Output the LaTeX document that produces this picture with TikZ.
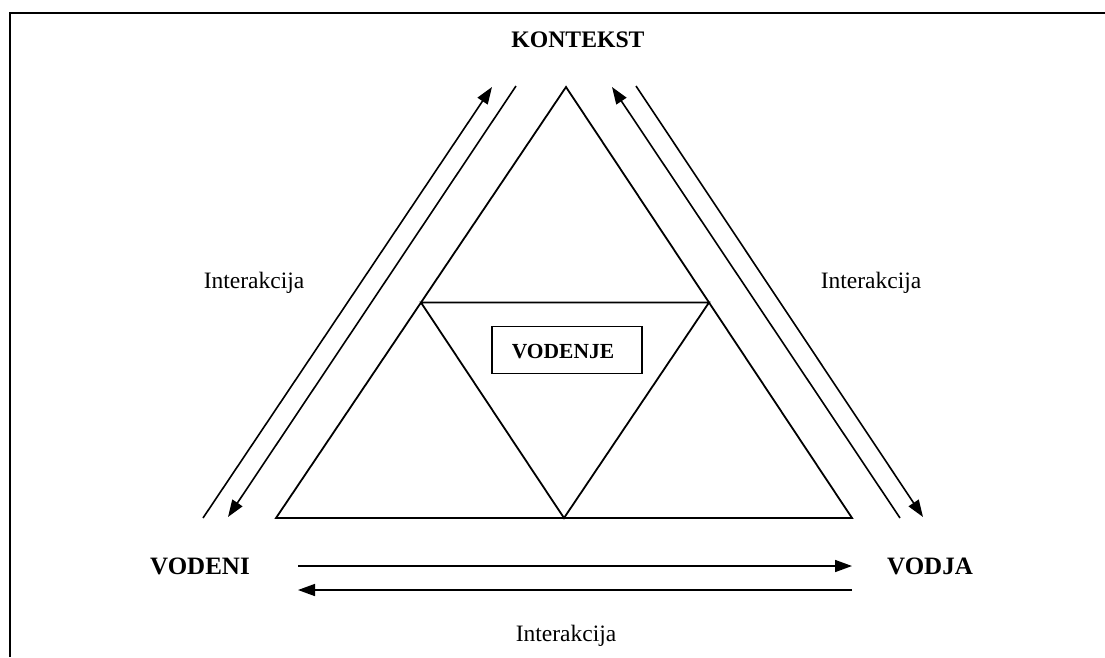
\documentclass[tikz,border=0pt]{standalone}
\usepackage{fontspec}
\setmainfont{Liberation Serif}
\usetikzlibrary{arrows.meta}
\begin{document}
\begin{tikzpicture}[x=1pt,y=-1pt,
  frame/.style={line width=2pt},
  tri/.style={line width=1.8pt, line join=miter},
  flow/.style={line width=1.6pt},
  flowarrow/.style={flow, -{Triangle[length=17pt,width=12pt]}},
  heading/.style={font=\fontsize{#1}{#1}\selectfont\bfseries, inner sep=0pt},
  note/.style={font=\fontsize{23.5}{24}\selectfont, inner sep=0pt}]
\useasboundingbox (0,0) rectangle (1105,657);
% open frame: left and top edges
\draw[frame] (10,657) -- (10,13) -- (1105,13);

% outer triangle
\coordinate (apex) at (566,87);
\coordinate (bl) at (276,518);
\coordinate (br) at (852,518);
\draw[tri] (apex) -- (br) -- (bl) -- cycle;
% inner inverted triangle joining the midpoints
\path (apex) -- (bl) coordinate[pos=0.5] (ml);
\path (apex) -- (br) coordinate[pos=0.5] (mr);
\path (bl) -- (br) coordinate[pos=0.5] (mb);
\draw[tri] (ml) -- (mr) -- (mb) -- cycle;

% central box
\node[draw, line width=1.6pt, minimum width=150pt, minimum height=47pt, inner sep=0pt] (box) at (567,350) {};
\node[heading=21.5] (vodenje) at (563,352) {VODENJE};

% labels
\node[heading=23.7] (kontekst) at (578,40) {KONTEKST};
\node[heading=25] (vodeni) at (200,566) {VODENI};
\node[heading=25] (vodja) at (930,566) {VODJA};
\node[note] (intl) at (254,283) {Interakcija};
\node[note] (intr) at (871,283) {Interakcija};
\node[note] (intb) at (566,636) {Interakcija};

% left pair of interaction arrows
\coordinate (la1) at (203,518);
\coordinate (la2) at (492,87);
\coordinate (lb1) at (516,86);
\coordinate (lb2) at (228,517);
\draw[flowarrow] (la1) -- (la2);
\draw[flowarrow] (lb1) -- (lb2);

% right pair of interaction arrows
\coordinate (ra1) at (900,518);
\coordinate (ra2) at (612,87);
\coordinate (rb1) at (636,86);
\coordinate (rb2) at (923,517);
\draw[flowarrow] (ra1) -- (ra2);
\draw[flowarrow] (rb1) -- (rb2);

% bottom pair of interaction arrows
\coordinate (ba1) at (298,566);
\coordinate (ba2) at (852,566);
\coordinate (bb1) at (852,590);
\coordinate (bb2) at (298,590);
\draw[flowarrow] (ba1) -- (ba2);
\draw[flowarrow] (bb1) -- (bb2);
\end{tikzpicture}
\end{document}
